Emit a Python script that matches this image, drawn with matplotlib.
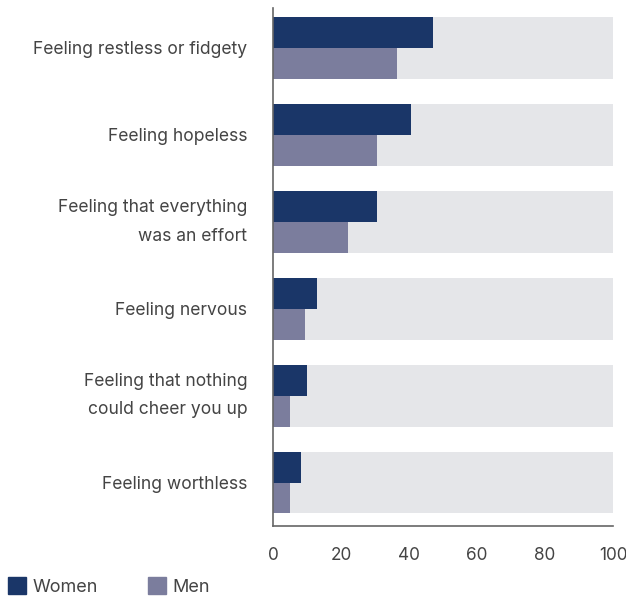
import numpy as np
import matplotlib
matplotlib.use("Agg")
import matplotlib.pyplot as plt
from matplotlib.patches import Patch

# data (percent)
categories = [
    "Feeling restless or fidgety",
    "Feeling hopeless",
    "Feeling that everything\nwas an effort",
    "Feeling nervous",
    "Feeling that nothing\ncould cheer you up",
    "Feeling worthless",
]
women = [47.0, 40.5, 30.5, 12.9, 9.9, 8.2]
men = [36.4, 30.5, 22.0, 9.3, 4.9, 4.9]
full = [100] * len(categories)
xticks = [0, 20, 40, 60, 80, 100]

women_col = "#1a3668"
men_col = "#7b7d9d"
bg_col = "#e5e6e9"
text_col = "#444444"

plt.rcParams["font.family"] = ["Inter", "DejaVu Sans"]

fig = plt.figure(figsize=(6.26, 5.96), dpi=100)
ax = fig.add_axes([273.3 / 626, 1 - 526 / 596, (613 - 273.3) / 626, (526 - 8) / 596])

y = np.arange(len(categories))
h = 0.356

# grey background bars to 100
ax.barh(y, full, height=2 * h, color=bg_col, linewidth=0)
ax.barh(y - h / 2, women, height=h, color=women_col, linewidth=0)
ax.barh(y + h / 2, men, height=h, color=men_col, linewidth=0)

ax.set_xlim(0, 100)
ax.set_ylim(5.5, -0.46)
ax.set_yticks(y)
ax.set_yticklabels(categories, fontsize=12.6, color=text_col, linespacing=1.9)
for lab in ax.get_yticklabels():
    if "\n" in lab.get_text():
        lab.set_va("center")
ax.set_xticks(xticks)
ax.set_xticklabels([str(t) for t in xticks], fontsize=12.4, color=text_col)
ax.tick_params(axis="y", length=0, pad=18.7)
ax.tick_params(axis="x", length=0, pad=15)

for s in ["top", "right"]:
    ax.spines[s].set_visible(False)
for s in ["left", "bottom"]:
    ax.spines[s].set_color("#666666")
    ax.spines[s].set_linewidth(1.2)

handles = [Patch(color=women_col, label="Women"), Patch(color=men_col, label="Men")]
fig.legend(handles=handles, loc="lower left", bbox_to_anchor=(8 / 626, 0.0), ncol=2,
           frameon=False, fontsize=13, handlelength=1.0, handleheight=1.05,
           handletextpad=0.35, columnspacing=2.8, labelcolor=text_col,
           borderpad=0, borderaxespad=0)

fig.savefig("out.png", dpi=100)
